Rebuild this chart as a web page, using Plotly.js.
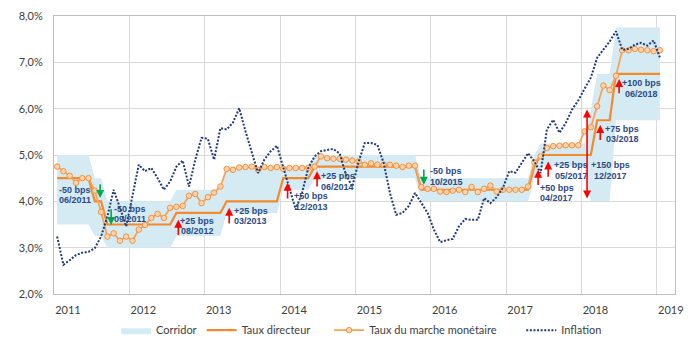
<!DOCTYPE html>
<html><head><meta charset="utf-8">
<script src="https://cdn.plot.ly/plotly-3.0.1.min.js"></script>
<style>html,body{margin:0;padding:0;background:#fff}#chart{width:700px;height:348px}</style>
</head><body><div id="chart"></div>
<script>
// Monthly observations, index 0 = first month of the series (Dec 2010)
const yearLabels = ['2011','2012','2013','2014','2015','2016','2017','2018','2019'];
const yTickValues = [2, 3, 4, 5, 6, 7, 8];
const yTickLabels = ['2,0%','3,0%','4,0%','5,0%','6,0%','7,0%','8,0%'];
const seriesNames = ['Corridor', 'Taux directeur', 'Taux du marche monétaire', 'Inflation'];

const corridorLow = [
  3.5,3.5,3.5,3.5,3.5,3.5, 3.25,3.25,
  3.0,3.0,3.0,3.0,3.0,3.0,3.0,3.0,3.0,3.0,3.0,
  3.25,3.25,3.25,3.25,3.25,3.25,3.25,3.25,
  3.75,3.75,3.75,3.75,3.75,3.75,3.75,3.75,3.75,
  4.25,4.25,4.25,4.25,4.25,
  4.5,4.5,4.5,4.5,4.5,4.5,4.5,4.5,4.5,4.5,4.5,4.5,4.5,4.5,4.5,4.5,4.5,
  4.0,4.0,4.0,4.0,4.0,4.0,4.0,4.0,4.0,4.0,4.0,4.0,4.0,4.0,4.0,4.0,4.0,4.0,
  4.5,
  4.75,4.75,4.75,4.75,4.75,4.75,4.75,4.75,
  4.0,
  4.0,4.0,4.0,
  5.75,5.75,5.75,5.75,5.75,5.75,5.75,5.75
];
const corridorHigh = [
  5.0,5.0,5.0,5.0,5.0,5.0, 4.5,4.5,
  4.0,4.0,4.0,4.0,4.0,4.0,4.0,4.0,4.0,4.0,4.0,
  4.25,4.25,4.25,4.25,4.25,4.25,4.25,4.25,
  4.75,4.75,4.75,4.75,4.75,4.75,4.75,4.75,4.75,
  4.75,4.75,4.75,4.75,4.75,
  5.0,5.0,5.0,5.0,5.0,5.0,5.0,5.0,5.0,5.0,5.0,5.0,5.0,5.0,5.0,5.0,5.0,
  4.5,4.5,4.5,4.5,4.5,4.5,4.5,4.5,4.5,4.5,4.5,4.5,4.5,4.5,4.5,4.5,4.5,4.5,
  5.0,
  5.25,5.25,5.25,5.25,5.25,5.25,5.25,5.25,
  6.0,
  6.75,6.75,6.75,
  7.75,7.75,7.75,7.75,7.75,7.75,7.75,7.75
];
const tauxDirecteur = [
  4.5,4.5,4.5,4.5,4.5,4.5, 4.0,4.0,
  3.5,3.5,3.5,3.5,3.5,3.5,3.5,3.5,3.5,3.5,3.5,
  3.75,3.75,3.75,3.75,3.75,3.75,3.75,3.75,
  4.0,4.0,4.0,4.0,4.0,4.0,4.0,4.0,4.0,
  4.5,4.5,4.5,4.5,4.5,
  4.75,4.75,4.75,4.75,4.75,4.75,4.75,4.75,4.75,4.75,4.75,4.75,4.75,4.75,4.75,4.75,4.75,
  4.25,4.25,4.25,4.25,4.25,4.25,4.25,4.25,4.25,4.25,4.25,4.25,4.25,4.25,4.25,4.25,4.25,4.25,
  4.75,
  5.0,5.0,5.0,5.0,5.0,5.0,5.0,5.0,5.0,
  5.75,5.75,5.75,
  6.75,6.75,6.75,6.75,6.75,6.75,6.75,6.75
];
const tauxMarche = [
  4.75,4.65,4.55,4.40,4.50,4.50,4.23,3.77,3.24,3.31,
  3.15,3.24,3.15,3.39,3.49,3.64,3.73,3.64,3.86,3.88,
  3.90,4.12,4.16,3.96,4.09,4.19,4.32,4.70,4.68,4.73,
  4.74,4.75,4.68,4.74,4.72,4.74,4.70,4.72,4.72,4.72,
  4.72,4.75,4.97,4.93,4.92,4.92,4.90,4.88,4.86,4.79,
  4.82,4.79,4.79,4.79,4.77,4.74,4.77,4.77,4.31,4.27,
  4.27,4.21,4.20,4.23,4.25,4.20,4.31,4.20,4.27,4.34,
  4.21,4.25,4.25,4.25,4.25,4.32,4.84,4.97,5.15,5.19,
  5.20,5.21,5.21,5.21,5.51,5.60,6.05,6.50,6.40,6.71,
  7.26,7.26,7.29,7.27,7.26,7.24,7.26
];
const inflation = [
  3.24,2.63,2.73,2.84,2.89,2.91,2.99,3.24,3.67,4.25,
  3.86,3.46,4.12,4.79,4.65,4.72,4.50,4.25,4.43,4.75,
  4.88,4.32,4.90,5.37,5.35,4.90,5.58,5.55,5.70,6.01,
  5.51,5.08,4.61,4.90,5.08,5.20,4.75,4.32,3.82,4.18,
  4.72,4.97,5.08,5.11,5.13,5.03,4.57,4.32,4.85,5.26,
  5.26,5.22,4.83,4.18,3.71,3.75,3.90,4.18,3.96,3.75,
  3.39,3.12,3.16,3.19,3.46,3.62,3.60,3.60,4.07,3.96,
  4.09,4.29,4.65,4.62,4.83,5.04,4.86,4.61,5.55,5.76,
  5.48,5.69,5.98,6.18,6.43,6.67,7.10,7.27,7.45,7.67,
  7.27,7.29,7.38,7.42,7.36,7.47,7.10
];

// Event labels (two lines each)
const eventTop = ['-50 bps','-50 bps','+25 bps','+25 bps','+50 bps','+25 pbs','-50 bps','+50 bps','+25 bps','+150 bps','+75 bps','+100 bps'];
const eventBottom = ['06/2011','09/2011','08/2012','03/2013','12/2013','06/2014','10/2015','04/2017','05/2017','12/2017','03/2018','06/2018'];
// label placement (month index, value)
const labelPos = [[2.8,4.14],[11.6,3.73],[22.3,3.47],[30.8,3.69],[40.5,4.0],[44.7,4.43],[62.0,4.54],[79.6,4.18],[81.9,4.67],[88.2,4.67],[90.0,5.46],[93.1,6.44]];
// arrows: [month index, tail value, head value, colour, double-headed]
const arrows = [
  [6.85,4.40,4.07,'#00a651',false],
  [8.6,3.86,3.49,'#00a651',false],
  [19.3,3.24,3.60,'#ff0000',false],
  [27.4,3.49,3.86,'#ff0000',false],
  [36.7,4.03,4.40,'#ff0000',false],
  [41.4,4.29,4.65,'#ff0000',false],
  [58.4,4.72,4.36,'#00a651',false],
  [76.6,4.32,4.68,'#ff0000',false],
  [78.2,4.50,4.86,'#ff0000',false],
  [84.4,4.03,5.98,'#ff0000',true],
  [86.5,5.29,5.65,'#ff0000',false],
  [89.5,6.30,6.64,'#ff0000',false]
];

const idx = tauxDirecteur.map((_, i) => i);
const gridPos = yearLabels.map((_, k) => 12 * k - 0.5);
const pad = n => '\u00a0'.repeat(n);

const traces = [
  {x: idx, y: corridorLow, type: 'scatter', mode: 'lines', line: {width: 0, color: '#d4ebf3'},
   showlegend: false, hoverinfo: 'skip'},
  {x: idx, y: corridorHigh, type: 'scatter', mode: 'lines', fill: 'tonexty', fillcolor: '#d4ebf3',
   line: {width: 0, color: '#d4ebf3'}, name: seriesNames[0]},
  {x: idx, y: tauxDirecteur, type: 'scatter', mode: 'lines', name: seriesNames[1] + pad(5),
   line: {color: '#f28a2e', width: 2.2}},
  {x: idx, y: tauxMarche, type: 'scatter', mode: 'lines+markers', name: seriesNames[2] + pad(7),
   line: {color: '#f7a258', width: 1.8},
   marker: {size: 5.5, color: '#fcd3ad', line: {color: '#f39340', width: 1}}},
  {x: idx, y: inflation, type: 'scatter', mode: 'lines', name: seriesNames[3],
   line: {color: '#1f3a75', width: 2, dash: '2px,1.6px'}}
];

const annFont = {family: 'Liberation Sans, Arial, sans-serif', size: 9, color: '#2b4a84'};
const annotations = [];
labelPos.forEach((p, k) => {
  annotations.push({x: p[0], y: p[1], xref: 'x', yref: 'y', text: '<b>' + eventTop[k] + '</b>', showarrow: false,
    font: annFont, yshift: 5, xanchor: 'center', yanchor: 'middle'});
  annotations.push({x: p[0], y: p[1], xref: 'x', yref: 'y', text: '<b>' + eventBottom[k] + '</b>', showarrow: false,
    font: annFont, yshift: -5.5, xanchor: 'center', yanchor: 'middle'});
});
arrows.forEach(a => {
  annotations.push({x: a[0], y: a[2], ax: a[0], ay: a[1], xref: 'x', yref: 'y', axref: 'x', ayref: 'y',
    text: '', showarrow: true, arrowcolor: a[3], arrowwidth: 1.6, arrowhead: 2, arrowsize: 1,
    arrowside: a[4] ? 'end+start' : 'end', standoff: 0, startstandoff: 0});
});

const layout = {
  width: 700, height: 348,
  margin: {l: 54, r: 25, t: 16, b: 54, autoexpand: false},
  paper_bgcolor: '#ffffff', plot_bgcolor: '#ffffff',
  font: {family: 'Lato, Liberation Sans, sans-serif', size: 11, color: '#404040'},
  showlegend: true,
  legend: {orientation: 'h', x: 0.1, xanchor: 'left', y: -0.13, yanchor: 'middle',
    font: {family: 'Lato, Liberation Sans, sans-serif', size: 11, color: '#404040'},
    traceorder: 'normal'},
  xaxis: {range: [-0.5, 98.4], tickvals: gridPos, ticktext: yearLabels, ticklabelshift: 14,
    showgrid: true, gridcolor: '#d9d9d9', gridwidth: 1, zeroline: false,
    showline: true, linecolor: '#bfbfbf', linewidth: 1, mirror: true, ticks: '',
    ticklabelstandoff: 6, tickfont: {size: 11, color: '#404040'}},
  yaxis: {range: [2, 8], tickvals: yTickValues, ticktext: yTickLabels,
    showgrid: true, gridcolor: '#d9d9d9', gridwidth: 1, zeroline: false,
    showline: true, linecolor: '#bfbfbf', linewidth: 1, mirror: true, ticks: '',
    ticklabelstandoff: 8, tickfont: {size: 11, color: '#404040'}},
  annotations: annotations
};

Plotly.newPlot('chart', traces, layout, {displayModeBar: false, staticPlot: true});
</script>
</body></html>
